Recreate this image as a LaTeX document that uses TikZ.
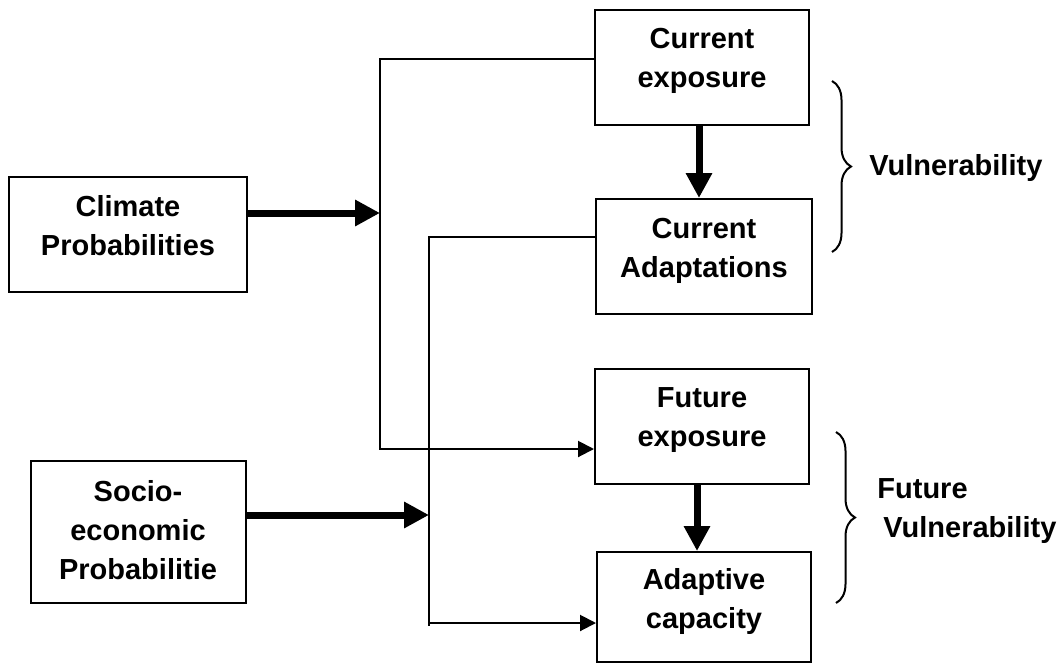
\documentclass[tikz,border=0pt]{standalone}
\usepackage{fontspec}
\setmainfont{Liberation Sans}
\usetikzlibrary{calc,arrows.meta,decorations.pathreplacing}

\begin{document}
\begin{tikzpicture}[x=0.5pt, y=-0.5pt,
    box/.style={draw, line width=1pt, align=center, inner sep=0pt,
      font=\fontsize{14.5}{19.5}\selectfont\bfseries, text depth=9pt},
    wire/.style={line width=1pt, -{Triangle[length=8pt,width=8pt]}},
    fat/.style={line width=3.5pt, -{Triangle[length=12.5pt,width=12.5pt]}},
    brc/.style={line width=1pt, decorate, decoration={brace, amplitude=9.5pt}},
    tag/.style={font=\fontsize{14.5}{19.5}\selectfont\bfseries, align=left,
      anchor=west, inner sep=0pt}
    ]
    \useasboundingbox (0,0) rectangle (1064,664);

    \node[box, minimum width=119pt, minimum height=57.5pt] (clim) at (128,234) {Climate\\Probabilities};
    \node[box, minimum width=107.5pt, minimum height=71pt, text depth=2pt] (socio) at (138,532) {Socio-\\economic\\Probabilitie};
    \node[box, minimum width=107pt, minimum height=57.5pt] (curexp) at (702,67) {Current\\exposure};
    \node[box, minimum width=108pt, minimum height=57.5pt] (curadp) at (704,256.5) {Current\\Adaptations};
    \node[box, minimum width=107pt, minimum height=57.5pt] (futexp) at (702,426) {Future\\exposure};
    \node[box, minimum width=107pt, minimum height=55pt] (adcap) at (704,607) {Adaptive\\capacity};

    \coordinate (a1) at (380,59);
    \coordinate (a2) at (380,449);
    \coordinate (b1) at (429,237);
    \coordinate (b2) at (429,623);
    \coordinate (ca) at ($(clim.east)+(0,-21)$);
    \coordinate (sa) at ($(socio.east)+(0,-17)$);

    \draw[wire] (curexp.west |- a1) -- (a1) -- (a2) -- (futexp.west |- a2);
    \draw[wire] (curadp.west |- b1) -- (b1) -- (b2) -- (adcap.west |- b2);
    \draw[line width=1pt] (b2) -- ++(0,3);

    \draw[fat] (ca) -- (ca -| a1);
    \draw[fat] (sa) -- (sa -| b1);
    \draw[fat] ([xshift=-1.5pt]curexp.south) -- ([xshift=-1.5pt]curexp.south |- curadp.north);
    \draw[fat] ([xshift=-2.5pt]futexp.south) -- ([xshift=-2.5pt]futexp.south |- adcap.north);

    \draw[brc] (832,81) -- (832,252);
    \node[tag] (vul) at (869,168) {Vulnerability};
    \draw[brc] (836,432) -- (836,603);
    \node[tag] (futvul) at (877,511) {Future\\\hspace{3pt}Vulnerability};
\end{tikzpicture}
\end{document}
